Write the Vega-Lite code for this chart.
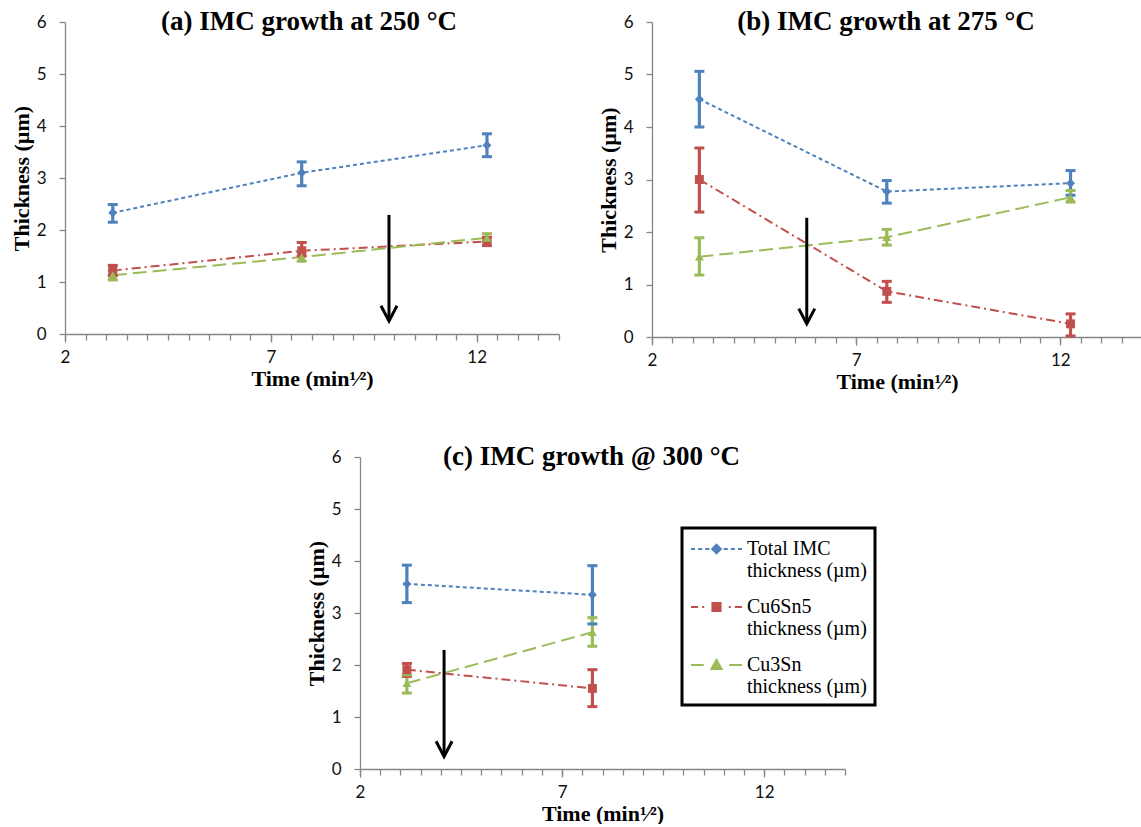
{
  "$schema": "https://vega.github.io/schema/vega-lite/v6.json",
  "padding": {"left": 10, "top": 8, "right": 0, "bottom": 0},
  "background": "white",
  "datasets": {
    "pts": [
      {"panel": "a", "series": "Total IMC thickness (µm)", "t": 3.16, "v": 2.33, "lo": 2.15, "hi": 2.49},
      {"panel": "a", "series": "Total IMC thickness (µm)", "t": 7.75, "v": 3.10, "lo": 2.85, "hi": 3.31},
      {"panel": "a", "series": "Total IMC thickness (µm)", "t": 12.25, "v": 3.63, "lo": 3.41, "hi": 3.85},
      {"panel": "a", "series": "Cu6Sn5 thickness (µm)", "t": 3.16, "v": 1.22, "lo": 1.12, "hi": 1.32},
      {"panel": "a", "series": "Cu6Sn5 thickness (µm)", "t": 7.75, "v": 1.60, "lo": 1.50, "hi": 1.76},
      {"panel": "a", "series": "Cu6Sn5 thickness (µm)", "t": 12.25, "v": 1.78, "lo": 1.70, "hi": 1.86},
      {"panel": "a", "series": "Cu3Sn thickness (µm)", "t": 3.16, "v": 1.13, "lo": 1.04, "hi": 1.22},
      {"panel": "a", "series": "Cu3Sn thickness (µm)", "t": 7.75, "v": 1.48, "lo": 1.40, "hi": 1.58},
      {"panel": "a", "series": "Cu3Sn thickness (µm)", "t": 12.25, "v": 1.85, "lo": 1.78, "hi": 1.93},
      {"panel": "b", "series": "Total IMC thickness (µm)", "t": 3.16, "v": 4.53, "lo": 4.00, "hi": 5.06},
      {"panel": "b", "series": "Total IMC thickness (µm)", "t": 7.75, "v": 2.77, "lo": 2.55, "hi": 2.98},
      {"panel": "b", "series": "Total IMC thickness (µm)", "t": 12.25, "v": 2.93, "lo": 2.70, "hi": 3.17},
      {"panel": "b", "series": "Cu6Sn5 thickness (µm)", "t": 3.16, "v": 3.00, "lo": 2.38, "hi": 3.60},
      {"panel": "b", "series": "Cu6Sn5 thickness (µm)", "t": 7.75, "v": 0.87, "lo": 0.66, "hi": 1.06},
      {"panel": "b", "series": "Cu6Sn5 thickness (µm)", "t": 12.25, "v": 0.25, "lo": 0.02, "hi": 0.44},
      {"panel": "b", "series": "Cu3Sn thickness (µm)", "t": 3.16, "v": 1.53, "lo": 1.18, "hi": 1.89},
      {"panel": "b", "series": "Cu3Sn thickness (µm)", "t": 7.75, "v": 1.90, "lo": 1.75, "hi": 2.05},
      {"panel": "b", "series": "Cu3Sn thickness (µm)", "t": 12.25, "v": 2.66, "lo": 2.57, "hi": 2.79},
      {"panel": "c", "series": "Total IMC thickness (µm)", "t": 3.16, "v": 3.56, "lo": 3.20, "hi": 3.92},
      {"panel": "c", "series": "Total IMC thickness (µm)", "t": 7.75, "v": 3.35, "lo": 2.79, "hi": 3.91},
      {"panel": "c", "series": "Cu6Sn5 thickness (µm)", "t": 3.16, "v": 1.91, "lo": 1.78, "hi": 2.03},
      {"panel": "c", "series": "Cu6Sn5 thickness (µm)", "t": 7.75, "v": 1.55, "lo": 1.20, "hi": 1.91},
      {"panel": "c", "series": "Cu3Sn thickness (µm)", "t": 3.16, "v": 1.65, "lo": 1.46, "hi": 1.81},
      {"panel": "c", "series": "Cu3Sn thickness (µm)", "t": 7.75, "v": 2.63, "lo": 2.36, "hi": 2.91}
    ],
    "arrows": [
      {"panel": "a", "t": 9.87, "top": 2.29, "tip": 0.25},
      {"panel": "b", "t": 5.79, "top": 2.27, "tip": 0.25},
      {"panel": "c", "t": 4.08, "top": 2.29, "tip": 0.24}
    ]
  },
  "vconcat": [
    {
      "hconcat": [
        {
          "width": 494, "height": 312,
          "title": {"text": "(a) IMC growth at 250 °C", "dx": -3},
          "layer": [
            {"data": {"name": "pts"}, "transform": [{"filter": "datum.panel == 'a'"}],
             "mark": {"type": "line", "strokeWidth": 2},
             "encoding": {
               "x": {"field": "t", "type": "quantitative", "scale": {"domain": [2, 14], "nice": false, "zero": false},
                     "axis": {"orient": "bottom", "values": [2,2.5,3,3.5,4,4.5,5,5.5,6,6.5,7,7.5,8,8.5,9,9.5,10,10.5,11,11.5,12,12.5,13,13.5,14], "labels": false, "tickSize": 6, "title": null, "domain": true}},
               "y": {"field": "v", "type": "quantitative", "scale": {"domain": [0, 6], "nice": false, "zero": true},
                     "axis": {"values": [0,1,2,3,4,5,6], "tickSize": 6, "labelPadding": 13, "labelFlush": false, "title": "Thickness (µm)", "titlePadding": 3}},
               "color": {"field": "series", "type": "nominal", "scale": {"domain": ["Total IMC thickness (µm)", "Cu6Sn5 thickness (µm)", "Cu3Sn thickness (µm)"], "range": ["#4f81bd", "#c0504d", "#9bbb59"]}, "legend": null},
               "strokeDash": {"field": "series", "type": "nominal", "scale": {"domain": ["Total IMC thickness (µm)", "Cu6Sn5 thickness (µm)", "Cu3Sn thickness (µm)"], "range": [[4,3],[9,4,2,4],[14,6]]}, "legend": null}
             }},
            {"data": {"name": "pts"}, "transform": [{"filter": "datum.panel == 'a'"}],
             "mark": {"type": "rule", "strokeWidth": 3.2},
             "encoding": {
               "x": {"field": "t", "type": "quantitative", "axis": {"orient": "bottom", "values": [2,7,12], "tickSize": 8, "domain": false, "labelPadding": 7, "labelFlush": false, "title": "Time (min¹⁄²)", "titlePadding": 3}},
               "y": {"field": "lo", "type": "quantitative"},
               "y2": {"field": "hi"},
               "color": {"field": "series", "type": "nominal", "legend": null}
             }},
            {"data": {"name": "pts"}, "transform": [{"filter": "datum.panel == 'a'"}],
             "mark": {"type": "tick", "orient": "horizontal", "size": 10, "thickness": 3, "opacity": 1},
             "encoding": {
               "x": {"field": "t", "type": "quantitative", "axis": null},
               "y": {"field": "lo", "type": "quantitative"},
               "color": {"field": "series", "type": "nominal", "legend": null}
             }},
            {"data": {"name": "pts"}, "transform": [{"filter": "datum.panel == 'a'"}],
             "mark": {"type": "tick", "orient": "horizontal", "size": 10, "thickness": 3, "opacity": 1},
             "encoding": {
               "x": {"field": "t", "type": "quantitative", "axis": null},
               "y": {"field": "hi", "type": "quantitative"},
               "color": {"field": "series", "type": "nominal", "legend": null}
             }},
            {"data": {"name": "pts"}, "transform": [{"filter": "datum.panel == 'a'"}],
             "mark": {"type": "point", "filled": true, "opacity": 1, "size": 80},
             "encoding": {
               "x": {"field": "t", "type": "quantitative", "axis": null},
               "y": {"field": "v", "type": "quantitative"},
               "color": {"field": "series", "type": "nominal", "legend": null},
               "shape": {"field": "series", "type": "nominal", "scale": {"domain": ["Total IMC thickness (µm)", "Cu6Sn5 thickness (µm)", "Cu3Sn thickness (µm)"], "range": ["diamond", "square", "triangle-up"]}, "legend": null}
             }},
            {"data": {"name": "arrows"}, "transform": [{"filter": "datum.panel == 'a'"}],
             "mark": {"type": "rule", "strokeWidth": 3, "color": "black"},
             "encoding": {
               "x": {"field": "t", "type": "quantitative", "axis": null},
               "y": {"field": "top", "type": "quantitative"},
               "y2": {"field": "tip"}
             }},
            {"data": {"name": "arrows"}, "transform": [{"filter": "datum.panel == 'a'"}],
             "mark": {"type": "point", "shape": "M-1,-1.9L0,0L1,-1.9", "size": 256, "filled": false, "stroke": "black", "strokeWidth": 3, "opacity": 1},
             "encoding": {
               "x": {"field": "t", "type": "quantitative", "axis": null},
               "y": {"field": "tip", "type": "quantitative"}
             }}
          ],
          "resolve": {"axis": {"x": "independent"}}
        },
        {
          "width": 490, "height": 315,
          "title": {"text": "(b) IMC growth at 275 °C", "dx": -11},
          "layer": [
            {"data": {"name": "pts"}, "transform": [{"filter": "datum.panel == 'b'"}],
             "mark": {"type": "line", "strokeWidth": 2},
             "encoding": {
               "x": {"field": "t", "type": "quantitative", "scale": {"domain": [2, 14], "nice": false, "zero": false},
                     "axis": {"orient": "bottom", "values": [2,2.5,3,3.5,4,4.5,5,5.5,6,6.5,7,7.5,8,8.5,9,9.5,10,10.5,11,11.5,12,12.5,13,13.5,14], "labels": false, "tickSize": 6, "title": null, "domain": true}},
               "y": {"field": "v", "type": "quantitative", "scale": {"domain": [0, 6], "nice": false, "zero": true},
                     "axis": {"values": [0,1,2,3,4,5,6], "tickSize": 6, "labelPadding": 13, "labelFlush": false, "title": "Thickness (µm)", "titlePadding": 3}},
               "color": {"field": "series", "type": "nominal", "scale": {"domain": ["Total IMC thickness (µm)", "Cu6Sn5 thickness (µm)", "Cu3Sn thickness (µm)"], "range": ["#4f81bd", "#c0504d", "#9bbb59"]}, "legend": null},
               "strokeDash": {"field": "series", "type": "nominal", "scale": {"domain": ["Total IMC thickness (µm)", "Cu6Sn5 thickness (µm)", "Cu3Sn thickness (µm)"], "range": [[4,3],[9,4,2,4],[14,6]]}, "legend": null}
             }},
            {"data": {"name": "pts"}, "transform": [{"filter": "datum.panel == 'b'"}],
             "mark": {"type": "rule", "strokeWidth": 3.2},
             "encoding": {
               "x": {"field": "t", "type": "quantitative", "axis": {"orient": "bottom", "values": [2,7,12], "tickSize": 8, "domain": false, "labelPadding": 7, "labelFlush": false, "title": "Time (min¹⁄²)", "titlePadding": 3}},
               "y": {"field": "lo", "type": "quantitative"},
               "y2": {"field": "hi"},
               "color": {"field": "series", "type": "nominal", "legend": null}
             }},
            {"data": {"name": "pts"}, "transform": [{"filter": "datum.panel == 'b'"}],
             "mark": {"type": "tick", "orient": "horizontal", "size": 10, "thickness": 3, "opacity": 1},
             "encoding": {
               "x": {"field": "t", "type": "quantitative", "axis": null},
               "y": {"field": "lo", "type": "quantitative"},
               "color": {"field": "series", "type": "nominal", "legend": null}
             }},
            {"data": {"name": "pts"}, "transform": [{"filter": "datum.panel == 'b'"}],
             "mark": {"type": "tick", "orient": "horizontal", "size": 10, "thickness": 3, "opacity": 1},
             "encoding": {
               "x": {"field": "t", "type": "quantitative", "axis": null},
               "y": {"field": "hi", "type": "quantitative"},
               "color": {"field": "series", "type": "nominal", "legend": null}
             }},
            {"data": {"name": "pts"}, "transform": [{"filter": "datum.panel == 'b'"}],
             "mark": {"type": "point", "filled": true, "opacity": 1, "size": 80},
             "encoding": {
               "x": {"field": "t", "type": "quantitative", "axis": null},
               "y": {"field": "v", "type": "quantitative"},
               "color": {"field": "series", "type": "nominal", "legend": null},
               "shape": {"field": "series", "type": "nominal", "scale": {"domain": ["Total IMC thickness (µm)", "Cu6Sn5 thickness (µm)", "Cu3Sn thickness (µm)"], "range": ["diamond", "square", "triangle-up"]}, "legend": null}
             }},
            {"data": {"name": "arrows"}, "transform": [{"filter": "datum.panel == 'b'"}],
             "mark": {"type": "rule", "strokeWidth": 3, "color": "black"},
             "encoding": {
               "x": {"field": "t", "type": "quantitative", "axis": null},
               "y": {"field": "top", "type": "quantitative"},
               "y2": {"field": "tip"}
             }},
            {"data": {"name": "arrows"}, "transform": [{"filter": "datum.panel == 'b'"}],
             "mark": {"type": "point", "shape": "M-1,-1.9L0,0L1,-1.9", "size": 256, "filled": false, "stroke": "black", "strokeWidth": 3, "opacity": 1},
             "encoding": {
               "x": {"field": "t", "type": "quantitative", "axis": null},
               "y": {"field": "tip", "type": "quantitative"}
             }}
          ],
          "resolve": {"axis": {"x": "independent"}}
        }
      ],
      "spacing": 93,
      "bounds": "flush"
    },
    {
      "hconcat": [
        {"width": 200, "height": 312, "data": {"values": []}, "mark": {"type": "point"}, "encoding": {}},
        {
          "width": 485, "height": 312,
          "title": {"text": "(c) IMC growth @ 300 °C", "dx": -11},
          "layer": [
            {"data": {"name": "pts"}, "transform": [{"filter": "datum.panel == 'c'"}],
             "mark": {"type": "line", "strokeWidth": 2},
             "encoding": {
               "x": {"field": "t", "type": "quantitative", "scale": {"domain": [2, 14], "nice": false, "zero": false},
                     "axis": {"orient": "bottom", "values": [2,2.5,3,3.5,4,4.5,5,5.5,6,6.5,7,7.5,8,8.5,9,9.5,10,10.5,11,11.5,12,12.5,13,13.5,14], "labels": false, "tickSize": 6, "title": null, "domain": true}},
               "y": {"field": "v", "type": "quantitative", "scale": {"domain": [0, 6], "nice": false, "zero": true},
                     "axis": {"values": [0,1,2,3,4,5,6], "tickSize": 6, "labelPadding": 13, "labelFlush": false, "title": "Thickness (µm)", "titlePadding": 3}},
               "color": {"field": "series", "type": "nominal", "scale": {"domain": ["Total IMC thickness (µm)", "Cu6Sn5 thickness (µm)", "Cu3Sn thickness (µm)"], "range": ["#4f81bd", "#c0504d", "#9bbb59"]}, "legend": null},
               "strokeDash": {"field": "series", "type": "nominal", "scale": {"domain": ["Total IMC thickness (µm)", "Cu6Sn5 thickness (µm)", "Cu3Sn thickness (µm)"], "range": [[4,3],[9,4,2,4],[14,6]]}, "legend": null}
             }},
            {"data": {"name": "pts"}, "transform": [{"filter": "datum.panel == 'c'"}],
             "mark": {"type": "rule", "strokeWidth": 3.2},
             "encoding": {
               "x": {"field": "t", "type": "quantitative", "axis": {"orient": "bottom", "values": [2,7,12], "tickSize": 8, "domain": false, "labelPadding": 7, "labelFlush": false, "title": "Time (min¹⁄²)", "titlePadding": 3}},
               "y": {"field": "lo", "type": "quantitative"},
               "y2": {"field": "hi"},
               "color": {"field": "series", "type": "nominal", "legend": null}
             }},
            {"data": {"name": "pts"}, "transform": [{"filter": "datum.panel == 'c'"}],
             "mark": {"type": "tick", "orient": "horizontal", "size": 10, "thickness": 3, "opacity": 1},
             "encoding": {
               "x": {"field": "t", "type": "quantitative", "axis": null},
               "y": {"field": "lo", "type": "quantitative"},
               "color": {"field": "series", "type": "nominal", "legend": null}
             }},
            {"data": {"name": "pts"}, "transform": [{"filter": "datum.panel == 'c'"}],
             "mark": {"type": "tick", "orient": "horizontal", "size": 10, "thickness": 3, "opacity": 1},
             "encoding": {
               "x": {"field": "t", "type": "quantitative", "axis": null},
               "y": {"field": "hi", "type": "quantitative"},
               "color": {"field": "series", "type": "nominal", "legend": null}
             }},
            {"data": {"name": "pts"}, "transform": [{"filter": "datum.panel == 'c'"}],
             "mark": {"type": "point", "filled": true, "opacity": 1, "size": 80},
             "encoding": {
               "x": {"field": "t", "type": "quantitative", "axis": null},
               "y": {"field": "v", "type": "quantitative"},
               "color": {"field": "series", "type": "nominal", "legend": null},
               "shape": {"field": "series", "type": "nominal", "scale": {"domain": ["Total IMC thickness (µm)", "Cu6Sn5 thickness (µm)", "Cu3Sn thickness (µm)"], "range": ["diamond", "square", "triangle-up"]}, "legend": null}
             }},
            {"data": {"name": "arrows"}, "transform": [{"filter": "datum.panel == 'c'"}],
             "mark": {"type": "rule", "strokeWidth": 3, "color": "black"},
             "encoding": {
               "x": {"field": "t", "type": "quantitative", "axis": null},
               "y": {"field": "top", "type": "quantitative"},
               "y2": {"field": "tip"}
             }},
            {"data": {"name": "arrows"}, "transform": [{"filter": "datum.panel == 'c'"}],
             "mark": {"type": "point", "shape": "M-1,-1.9L0,0L1,-1.9", "size": 256, "filled": false, "stroke": "black", "strokeWidth": 3, "opacity": 1},
             "encoding": {
               "x": {"field": "t", "type": "quantitative", "axis": null},
               "y": {"field": "tip", "type": "quantitative"}
             }},
            {"data": {"values": []},
             "mark": {"type": "point", "filled": true, "opacity": 1},
             "encoding": {
               "shape": {"field": "series", "type": "nominal",
                 "scale": {"domain": ["Total IMC thickness (µm)", "Cu6Sn5 thickness (µm)", "Cu3Sn thickness (µm)"],
                           "range": ["M-1,0H-0.66M-0.405,0H-0.065M0.19,0H0.53M0.765,0L1.125,-0.36L1.485,0L1.125,0.36ZM1.72,0H2.06M2.315,0H2.655M2.91,0H3.25",
                                     "M-1,0H-0.405M-0.065,0H0.105M0.785,-0.34H1.465V0.34H0.785ZM2.145,0H2.315M2.655,0H3.25",
                                     "M-1,0H0.0625M0.7,0.34L1.125,-0.425L1.55,0.34ZM2.1875,0H3.25"]},
                 "legend": {"title": null, "orient": "none", "legendX": 322, "legendY": 71, "strokeColor": "black", "padding": 8, "symbolSize": 576, "symbolStrokeWidth": 2, "symbolOpacity": 1, "labelFont": "Liberation Serif", "labelFontSize": 20, "labelColor": "#000", "labelLimit": 400, "labelOffset": 31, "rowPadding": 13, "labelExpr": "[replace(datum.label, ' thickness (µm)', ''), 'thickness (µm)']", "encode": {"legend": {"update": {"strokeWidth": {"value": 3}}}}}},
               "fill": {"field": "series", "type": "nominal",
                 "scale": {"domain": ["Total IMC thickness (µm)", "Cu6Sn5 thickness (µm)", "Cu3Sn thickness (µm)"], "range": ["#4f81bd", "#c0504d", "#9bbb59"]},
                 "legend": {"title": null, "orient": "none", "legendX": 322, "legendY": 71, "strokeColor": "black", "padding": 8, "symbolSize": 576, "symbolStrokeWidth": 2, "symbolOpacity": 1, "labelFont": "Liberation Serif", "labelFontSize": 20, "labelColor": "#000", "labelLimit": 400, "labelOffset": 31, "rowPadding": 13, "labelExpr": "[replace(datum.label, ' thickness (µm)', ''), 'thickness (µm)']", "encode": {"legend": {"update": {"strokeWidth": {"value": 3}}}}}},
               "stroke": {"field": "series", "type": "nominal",
                 "scale": {"domain": ["Total IMC thickness (µm)", "Cu6Sn5 thickness (µm)", "Cu3Sn thickness (µm)"], "range": ["#4f81bd", "#c0504d", "#9bbb59"]},
                 "legend": {"title": null, "orient": "none", "legendX": 322, "legendY": 71, "strokeColor": "black", "padding": 8, "symbolSize": 576, "symbolStrokeWidth": 2, "symbolOpacity": 1, "labelFont": "Liberation Serif", "labelFontSize": 20, "labelColor": "#000", "labelLimit": 400, "labelOffset": 31, "rowPadding": 13, "labelExpr": "[replace(datum.label, ' thickness (µm)', ''), 'thickness (µm)']", "encode": {"legend": {"update": {"strokeWidth": {"value": 3}}}}}}
             }}
          ],
          "resolve": {
            "axis": {"x": "independent"},
            "scale": {"shape": "independent", "fill": "independent", "stroke": "independent"},
            "legend": {"shape": "independent", "fill": "independent", "stroke": "independent"}
          }
        }
      ],
      "spacing": 95,
      "bounds": "flush"
    }
  ],
  "spacing": 435,
  "bounds": "flush",
  "config": {
    "view": {"stroke": null},
    "font": "Liberation Serif",
    "axis": {"grid": false, "domainColor": "#868686", "domainWidth": 1.3, "tickColor": "#868686", "tickWidth": 1.3,
             "labelFont": "Lato", "labelFontSize": 17, "labelColor": "#111",
             "titleFont": "Liberation Serif", "titleFontSize": 22, "titleFontWeight": "bold", "titleColor": "#000"},
    "legend": {"labelFont": "Liberation Serif", "labelFontSize": 20, "labelColor": "#000"},
    "title": {"font": "Liberation Serif", "fontSize": 27, "fontWeight": "bold", "color": "#000", "anchor": "middle", "baseline": "middle", "offset": -23}
  }
}
